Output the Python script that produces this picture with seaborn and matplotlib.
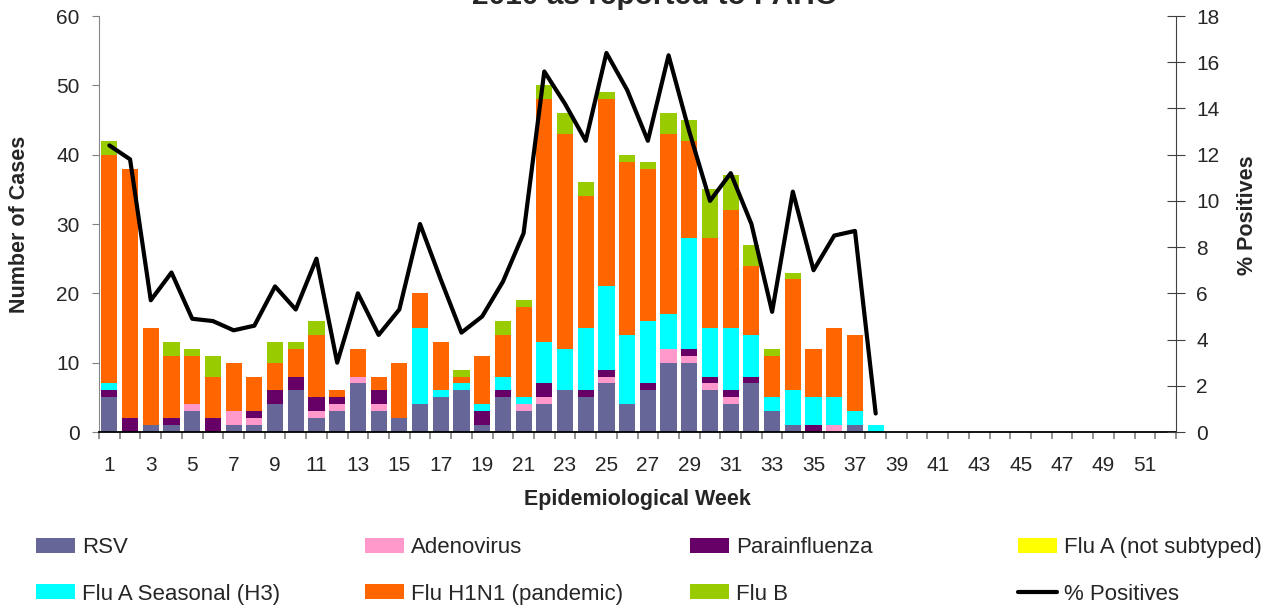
import numpy as np
import pandas as pd
import seaborn as sns
import matplotlib.pyplot as plt
from matplotlib.patches import Patch
from matplotlib.lines import Line2D

# Epidemiological weeks shown on the axis (data reported up to week 38)
weeks = list(range(1, 53))

# Number of cases per virus, weeks 1..38
rsv = [5, 0, 1, 1, 3, 0, 1, 1, 4, 6, 2, 3, 7, 3, 2, 4, 5, 6, 1, 5, 3, 4, 6, 5, 7, 4, 6, 10, 10, 6, 4, 7, 3, 1, 0, 0, 1, 0]
adeno = [0, 0, 0, 0, 1, 0, 2, 1, 0, 0, 1, 1, 1, 1, 0, 0, 0, 0, 0, 0, 1, 1, 0, 0, 1, 0, 0, 2, 1, 1, 1, 0, 0, 0, 0, 1, 0, 0]
para = [1, 2, 0, 1, 0, 2, 0, 1, 2, 2, 2, 1, 0, 2, 0, 0, 0, 0, 2, 1, 0, 2, 0, 1, 1, 0, 1, 0, 1, 1, 1, 1, 0, 0, 1, 0, 0, 0]
flu_a_nst = [0] * 38
flu_h3 = [1, 0, 0, 0, 0, 0, 0, 0, 0, 0, 0, 0, 0, 0, 0, 11, 1, 1, 1, 2, 1, 6, 6, 9, 12, 10, 9, 5, 16, 7, 9, 6, 2, 5, 4, 4, 2, 1]
flu_h1n1 = [33, 36, 14, 9, 7, 6, 7, 5, 4, 4, 9, 1, 4, 2, 8, 5, 7, 1, 7, 6, 13, 35, 31, 19, 27, 25, 22, 26, 14, 13, 17, 10, 6, 16, 7, 10, 11, 0]
flu_b = [2, 0, 0, 2, 1, 3, 0, 0, 3, 1, 2, 0, 0, 0, 0, 0, 0, 1, 0, 2, 1, 2, 3, 2, 1, 1, 1, 3, 3, 7, 5, 3, 1, 1, 0, 0, 0, 0]

# % positives, weeks 1..38
pct_pos = [12.4, 11.8, 5.7, 6.9, 4.9, 4.8, 4.4, 4.6, 6.3, 5.3, 7.5, 3.0, 6.0, 4.2, 5.3, 9.0, 6.6, 4.3, 5.0, 6.5,
           8.6, 15.6, 14.2, 12.6, 16.4, 14.8, 12.6, 16.3, 13.0, 10.0, 11.2, 9.0, 5.2, 10.4, 7.0, 8.5, 8.7, 0.8]

series_names = ['RSV', 'Adenovirus', 'Parainfluenza', 'Flu A (not subtyped)',
                'Flu A Seasonal (H3)', 'Flu H1N1 (pandemic)', 'Flu B']
series_values = [rsv, adeno, para, flu_a_nst, flu_h3, flu_h1n1, flu_b]
series_colors = ['#666699', '#FF99CC', '#660066', '#FFFF00', '#00FFFF', '#FF6600', '#99CC00']

sns.set_style('ticks')
plt.rcParams['font.family'] = ['Liberation Sans', 'DejaVu Sans']

def pad(vals):
    return list(vals) + [0] * (len(weeks) - len(vals))

df = pd.DataFrame({'week': weeks})
for name, vals in zip(series_names, series_values):
    df[name] = pad(vals)

fig = plt.figure(figsize=(12.7, 6.08), dpi=100)
ax = fig.add_axes([99 / 1270, 1 - 432 / 608, 1077 / 1270, 416 / 608])

# stacked bars
bottom = np.zeros(len(weeks))
for name, color in zip(series_names, series_colors):
    sns.barplot(data=df, x='week', y=name, order=weeks, color=color, width=0.78,
                saturation=1, errorbar=None, bottom=bottom, linewidth=0, ax=ax)
    bottom = bottom + df[name].to_numpy()

# % positives line on the secondary axis
ax2 = ax.twinx()
sns.lineplot(x=np.arange(len(pct_pos)), y=pct_pos, color='black', linewidth=3, ax=ax2)

ax.set_xlim(-0.5, len(weeks) - 0.5)
ax.set_ylim(0, 60)
ax2.set_ylim(0, 18)
ax.set_yticks(range(0, 61, 10))
ax2.set_yticks(range(0, 19, 2))
ax.set_xticks(range(0, len(weeks), 2))
ax.set_xticklabels(weeks[::2])
ax.set_xticks(np.arange(-0.5, len(weeks), 1), minor=True)

ax.tick_params(axis='x', which='major', length=0, pad=17, labelsize=15)
ax.tick_params(axis='x', which='minor', length=5, color='#808080', width=1.2)
ax.tick_params(axis='y', length=5, direction='out', pad=9, labelsize=15, color='#808080')
ax2.tick_params(axis='y', direction='inout', length=13, pad=8, labelsize=15, color='#404040')

for s in ['top', 'right']:
    ax.spines[s].set_visible(False)
for s in ['top', 'left', 'bottom']:
    ax2.spines[s].set_visible(False)
ax.spines['left'].set_color('#868686')
ax.spines['bottom'].set_color('black')
ax.spines['bottom'].set_linewidth(1.3)
ax2.spines['right'].set_color('#404040')

ax.set_xlabel('Epidemiological Week', fontsize=15.5, fontweight='bold')
ax.xaxis.set_label_coords(0.5, -0.137)
ax.set_ylabel('Number of Cases', fontsize=15.5, fontweight='bold')
ax.yaxis.set_label_coords(-0.064, 0.5)
ax2.set_ylabel('% Positives', fontsize=15.5, fontweight='bold')
ax2.yaxis.set_label_coords(1.057, 0.52)

# title, partly cut off at the top like the original
fig.text(0.5157, 1 - 4 / 608, '2010 as reported to PAHO', ha='center', va='baseline',
         fontsize=21.5, fontweight='bold')

# legend: four fixed columns, two rows
handles = [Patch(facecolor=c, edgecolor='none') for c in series_colors]
handles.append(Line2D([], [], color='black', linewidth=3))
labels = series_names + ['% Positives']
columns = [(0, 4), (1, 5), (2, 6), (3, 7)]
col_x = [36, 365, 690, 1018]
for (i, j), x in zip(columns, col_x):
    fig.legend([handles[i], handles[j]], [labels[i], labels[j]], loc='center left',
               bbox_to_anchor=(x / 1270, 1 - 571 / 608), frameon=False, fontsize=16,
               borderpad=0, borderaxespad=0, handlelength=1.75, handleheight=0.65,
               handletextpad=0.32, labelspacing=1.13)

fig.savefig('out.png', dpi=100)
